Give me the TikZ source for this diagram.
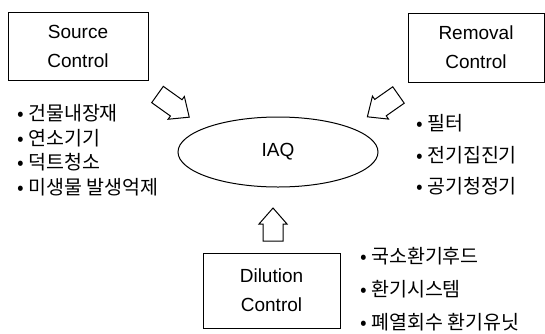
\documentclass[tikz,border=0pt]{standalone}
\usepackage{fontspec}
\setmainfont{Liberation Sans}
\newfontfamily\kr{Noto Sans CJK KR}
\usetikzlibrary{shapes.geometric, positioning}

\tikzset{
  ctrlbox/.style={draw, line width=0.8pt, align=center, inner sep=0pt,
    font=\fontsize{19}{29}\selectfont},
  item/.style={anchor=west, inner sep=0pt, font=\kr\fontsize{19.5}{22}\selectfont},
  hollow/.style={draw, line width=1pt, line join=miter}
}

\begin{document}
\begin{tikzpicture}[x=1pt, y=-1pt]
    \useasboundingbox (0,0) rectangle (545,333);

    % Control boxes
    \node[ctrlbox, minimum width=140pt, minimum height=68pt] (source) at (78,46) {Source\\Control};
    \node[ctrlbox, minimum width=136pt, minimum height=69pt] (removal) at (476,47.5) {Removal\\Control};
    \node[ctrlbox, minimum width=137pt, minimum height=75pt] (dilution) at (271.5,290.5) {Dilution\\Control};

    % IAQ
    \node[draw, ellipse, line width=1pt, inner sep=0pt, minimum width=200pt, minimum height=70pt,
        font=\fontsize{19}{22}\selectfont] (iaq) at (278,152) {IAQ};

    % Hollow block arrows towards IAQ
    \foreach \x/\y/\a/\l in {157.5/94.5/-35.5/39, 398.5/95/-145/38, 273/241/90/33}
        \draw[hollow, shift={(\x,\y)}, rotate=\a] (0,-10) -- (\l-16,-10) -- (\l-16,-14)
            -- (\l,0) -- (\l-16,14) -- (\l-16,10) -- (0,10) -- cycle;

    % Measures
    \foreach \t [count=\i] in {건물내장재, 연소기기, 덕트청소, 미생물 발생억제}
        \node[item] (src\i) at (17,89+24.5*\i) {• \t};
    \foreach \t [count=\i] in {필터, 전기집진기, 공기청정기}
        \node[item] (rem\i) at (416,92+31.5*\i) {• \t};
    \foreach \t [count=\i] in {국소환기후드, 환기시스템, 폐열회수 환기유닛}
        \node[item] (dil\i) at (360,223+33*\i) {• \t};
\end{tikzpicture}
\end{document}
